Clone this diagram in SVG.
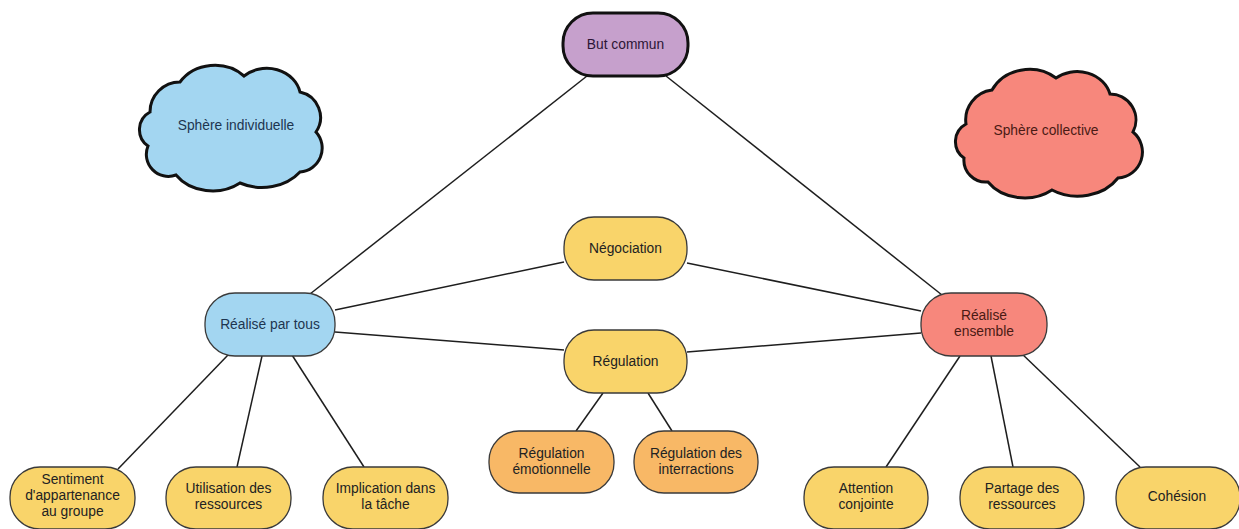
<svg xmlns="http://www.w3.org/2000/svg" width="1239" height="529" viewBox="0 0 1239 529">
<style>
.bg{fill:#ffffff}
.edge{stroke:#1e1e1e;stroke-width:1.5;fill:none}
.node{stroke:#3a3a3a;stroke-width:1.3}
.yellow{fill:#f9d46a}
.orange{fill:#f8b866}
.blue{fill:#a3d6f1}
.salmon{fill:#f7877c}
.purple{fill:#c6a0cc;stroke:#111;stroke-width:3}
.cloud{stroke:#111;stroke-width:3}
text{font-family:"Liberation Sans",Arial,sans-serif;font-size:13.8px;text-anchor:middle;fill:#222}
.tb{fill:#1d3550}
.ts{fill:#4a1a14}
.tp{fill:#2c1535}
</style>
<rect class="bg" x="0" y="0" width="1239" height="529"/>
<g id="connectors">
<line class="edge" x1="587" y1="76" x2="310" y2="294"/>
<line class="edge" x1="666" y1="76" x2="942" y2="295"/>
<line class="edge" x1="335" y1="310" x2="564" y2="262"/>
<line class="edge" x1="687" y1="263" x2="921" y2="311"/>
<line class="edge" x1="335" y1="332" x2="564" y2="350"/>
<line class="edge" x1="687" y1="352" x2="921" y2="333"/>
<line class="edge" x1="603" y1="393" x2="576" y2="431"/>
<line class="edge" x1="648" y1="393" x2="672" y2="431"/>
<line class="edge" x1="228" y1="355" x2="118" y2="469"/>
<line class="edge" x1="262" y1="356" x2="237" y2="467"/>
<line class="edge" x1="292" y1="355" x2="364" y2="467"/>
<line class="edge" x1="960" y1="356" x2="886" y2="467"/>
<line class="edge" x1="991" y1="356" x2="1013" y2="467"/>
<line class="edge" x1="1020" y1="352" x2="1140" y2="467"/>
</g>
<g id="but-commun">
<rect class="purple" x="563" y="13" width="125" height="63" rx="30"/>
<text class="tp" x="625.5" y="49">But commun</text>
</g>
<g id="sphere-individuelle">
<path class="cloud blue" d="M150,112 A30,30 0 0 1 180,82 A42,38 0 0 1 244,76 A34,30 0 0 1 300,92 A26,26 0 0 1 316,132 A24,24 0 0 1 300,172 A48,40 0 0 1 240,183 A44,36 0 0 1 176,175 A22,22 0 0 1 148,146 A20,20 0 0 1 150,112 Z"/>
<text class="tb" x="236" y="130">Sphère individuelle</text>
</g>
<g id="sphere-collective">
<path class="cloud salmon" d="M966,124 A30,30 0 0 1 992,90 A42,38 0 0 1 1056,78 A34,30 0 0 1 1110,94 A26,26 0 0 1 1133,132 A26,26 0 0 1 1118,178 A48,40 0 0 1 1052,190 A44,36 0 0 1 988,182 A22,22 0 0 1 964,158 A20,20 0 0 1 966,124 Z"/>
<text class="ts" x="1046" y="135">Sphère collective</text>
</g>
<g id="realise-par-tous">
<rect class="node blue" x="205" y="293" width="130" height="63" rx="30"/>
<text class="tb" x="270" y="329">Réalisé par tous</text>
</g>
<g id="realise-ensemble">
<rect class="node salmon" x="921" y="293" width="126" height="63" rx="30"/>
<text class="ts" x="984" y="320">Réalisé</text>
<text class="ts" x="984" y="336">ensemble</text>
</g>
<g id="negociation">
<rect class="node yellow" x="564" y="217" width="123" height="63" rx="30"/>
<text x="625.5" y="253">Négociation</text>
</g>
<g id="regulation">
<rect class="node yellow" x="564" y="330" width="123" height="63" rx="30"/>
<text x="625.5" y="366">Régulation</text>
</g>
<g id="regulation-emotionnelle">
<rect class="node orange" x="489" y="431" width="125" height="62" rx="30"/>
<text x="551.5" y="458">Régulation</text>
<text x="551.5" y="474">émotionnelle</text>
</g>
<g id="regulation-interractions">
<rect class="node orange" x="634" y="431" width="124" height="62" rx="30"/>
<text x="696" y="458">Régulation des</text>
<text x="696" y="474">interractions</text>
</g>
<g id="sentiment">
<rect class="node yellow" x="10" y="467" width="125" height="62" rx="30"/>
<text x="72.5" y="484">Sentiment</text>
<text x="72.5" y="500">d'appartenance</text>
<text x="72.5" y="516">au groupe</text>
</g>
<g id="utilisation">
<rect class="node yellow" x="166" y="467" width="125" height="62" rx="30"/>
<text x="228.5" y="493">Utilisation des</text>
<text x="228.5" y="509">ressources</text>
</g>
<g id="implication">
<rect class="node yellow" x="323" y="467" width="125" height="62" rx="30"/>
<text x="385.5" y="493">Implication dans</text>
<text x="385.5" y="509">la tâche</text>
</g>
<g id="attention">
<rect class="node yellow" x="804" y="467" width="124" height="62" rx="30"/>
<text x="866" y="493">Attention</text>
<text x="866" y="509">conjointe</text>
</g>
<g id="partage">
<rect class="node yellow" x="960" y="467" width="124" height="62" rx="30"/>
<text x="1022" y="493">Partage des</text>
<text x="1022" y="509">ressources</text>
</g>
<g id="cohesion">
<rect class="node yellow" x="1116" y="467" width="124" height="62" rx="30"/>
<text x="1177" y="501">Cohésion</text>
</g>
</svg>
